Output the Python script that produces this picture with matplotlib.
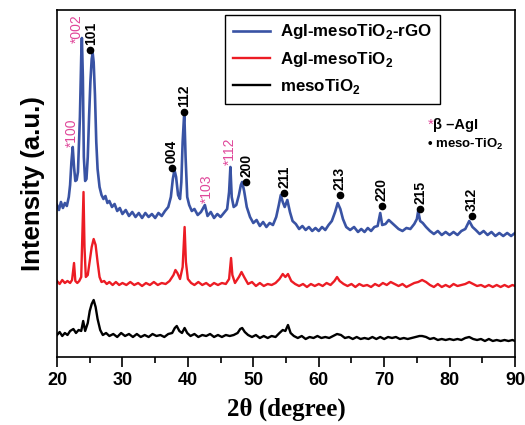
import matplotlib
matplotlib.use("Agg")
import matplotlib.pyplot as plt
from matplotlib.ticker import MultipleLocator

plt.rcParams['font.family'] = ['Liberation Sans', 'DejaVu Sans']
plt.rcParams['mathtext.fontset'] = 'custom'
plt.rcParams['mathtext.rm'] = 'Liberation Sans'
plt.rcParams['mathtext.bf'] = 'Liberation Sans:bold'

# XRD patterns (2theta in degrees, intensity in a.u.)
rgo_x = [20.0, 20.3, 20.6, 20.9, 21.2, 21.5, 21.8, 22.0, 22.2, 22.4, 22.6, 22.8, 23.0, 23.2,
         23.5, 23.7, 23.8, 23.95, 24.1, 24.3, 24.5, 24.7, 24.9, 25.1, 25.3, 25.45, 25.6, 25.8,
         26.0, 26.2, 26.5, 26.8, 27.1, 27.4, 27.7, 28.0, 28.4, 28.8, 29.2, 29.6, 30.0, 30.5,
         31.0, 31.5, 32.0, 32.5, 33.0, 33.5, 34.0, 34.5, 35.0, 35.5, 36.0, 36.5, 37.0, 37.4,
         37.7, 37.95, 38.2, 38.5, 38.8, 39.0, 39.2, 39.45, 39.65, 39.9, 40.2, 40.6, 41.0, 41.5,
         42.0, 42.6, 43.0, 43.5, 44.0, 44.5, 45.0, 45.5, 46.0, 46.3, 46.5, 46.7, 47.0, 47.4,
         47.8, 48.1, 48.3, 48.6, 49.0, 49.5, 50.0, 50.5, 51.0, 51.5, 52.0, 52.5, 53.0, 53.5,
         53.9, 54.2, 54.5, 54.8, 55.2, 55.6, 56.0, 56.5, 57.0, 57.5, 58.0, 58.5, 59.0, 59.5,
         60.0, 60.5, 61.0, 61.5, 62.0, 62.5, 62.9, 63.3, 63.7, 64.2, 64.8, 65.4, 66.0, 66.5,
         67.0, 67.5, 68.0, 68.5, 69.0, 69.4, 69.7, 70.2, 70.7, 71.2, 71.7, 72.2, 72.8, 73.4,
         74.0, 74.6, 75.0, 75.2, 75.5, 75.9, 76.4, 77.0, 77.6, 78.2, 78.8, 79.4, 80.0, 80.6,
         81.2, 81.8, 82.4, 83.0, 83.5, 84.0, 84.6, 85.2, 85.8, 86.4, 87.0, 87.6, 88.2, 88.8,
         89.4, 90.0]
rgo_y = [152, 147, 155, 149, 154, 151, 160, 172, 195, 210, 190, 176, 177, 185,
         240, 300, 319, 280, 200, 176, 178, 200, 240, 275, 298, 304, 295, 262,
         215, 188, 170, 162, 158, 161, 154, 156, 150, 153, 146, 149, 143, 147,
         141, 145, 140, 144, 139, 144, 140, 143, 139, 144, 141, 146, 150, 160,
         178, 187, 180, 162, 158, 175, 215, 245, 200, 160, 152, 146, 148, 142,
         145, 152, 141, 145, 139, 143, 140, 144, 148, 165, 190, 160, 150, 152,
         162, 172, 175, 166, 150, 140, 134, 137, 131, 135, 130, 134, 132, 140,
         152, 162, 155, 150, 157, 145, 136, 133, 128, 131, 127, 130, 126, 129,
         126, 130, 127, 132, 136, 145, 154, 148, 138, 130, 127, 130, 125, 128,
         125, 129, 126, 130, 131, 144, 132, 133, 137, 134, 131, 128, 126, 129,
         128, 133, 138, 146, 136, 134, 130, 126, 123, 126, 122, 125, 122, 125,
         122, 126, 128, 136, 130, 127, 123, 126, 122, 125, 121, 124, 121, 124,
         121, 124]

agi_x = [20.0, 20.4, 20.8, 21.2, 21.6, 22.0, 22.3, 22.6, 22.8, 23.1, 23.4, 23.7, 23.9, 24.05,
         24.2, 24.4, 24.7, 25.0, 25.3, 25.6, 25.9, 26.2, 26.5, 26.8, 27.2, 27.6, 28.0, 28.5,
         29.0, 29.5, 30.0, 30.6, 31.2, 31.8, 32.4, 33.0, 33.6, 34.2, 34.8, 35.4, 36.0, 36.6,
         37.2, 37.8, 38.1, 38.4, 38.8, 39.2, 39.5, 39.7, 40.0, 40.5, 41.0, 41.6, 42.2, 42.8,
         43.4, 44.0, 44.6, 45.2, 45.8, 46.3, 46.6, 46.8, 47.2, 47.8, 48.2, 48.6, 49.2, 49.8,
         50.4, 51.0, 51.6, 52.2, 52.8, 53.4, 54.0, 54.5, 54.9, 55.3, 55.8, 56.4, 57.0, 57.6,
         58.2, 58.8, 59.4, 60.0, 60.6, 61.2, 61.8, 62.4, 62.8, 63.2, 63.8, 64.4, 65.0, 65.6,
         66.2, 66.8, 67.4, 68.0, 68.6, 69.2, 69.8, 70.4, 71.0, 71.6, 72.2, 72.8, 73.4, 74.0,
         74.6, 75.2, 75.8, 76.4, 77.0, 77.6, 78.2, 78.8, 79.4, 80.0, 80.6, 81.2, 81.8, 82.4,
         83.0, 83.6, 84.2, 84.8, 85.4, 86.0, 86.6, 87.2, 87.8, 88.4, 89.0, 89.6, 90.0]
agi_y = [76, 73, 77, 74, 76, 74, 77, 94, 76, 74, 76, 80, 130, 165,
         110, 80, 82, 96, 110, 118, 112, 95, 80, 75, 76, 73, 75, 72,
         75, 72, 74, 72, 75, 72, 74, 71, 74, 72, 75, 72, 74, 73,
         76, 82, 87, 84, 78, 90, 130, 95, 78, 74, 72, 75, 72, 74,
         71, 74, 72, 74, 73, 78, 99, 82, 74, 80, 85, 80, 73, 75,
         71, 74, 71, 73, 72, 74, 78, 83, 80, 83, 76, 73, 71, 73,
         70, 73, 71, 73, 71, 74, 72, 76, 80, 76, 73, 71, 73, 70,
         73, 71, 72, 70, 73, 71, 74, 72, 75, 73, 71, 73, 70, 72,
         74, 75, 77, 75, 72, 70, 73, 70, 72, 70, 73, 71, 72, 73,
         75, 73, 71, 72, 70, 72, 70, 72, 70, 72, 70, 72, 71]

tio2_x = [20.0, 20.4, 20.8, 21.2, 21.6, 22.0, 22.5, 22.9, 23.3, 23.7, 24.0, 24.3, 24.7, 25.0,
          25.3, 25.6, 25.9, 26.2, 26.6, 27.0, 27.5, 28.0, 28.6, 29.2, 29.8, 30.4, 31.0, 31.6,
          32.2, 32.8, 33.4, 34.0, 34.6, 35.2, 35.8, 36.4, 37.0, 37.6, 38.0, 38.3, 38.7, 39.1,
          39.5, 39.9, 40.4, 41.0, 41.6, 42.2, 42.8, 43.4, 44.0, 44.6, 45.2, 45.8, 46.4, 47.0,
          47.6, 48.0, 48.3, 48.7, 49.2, 49.8, 50.4, 51.0, 51.6, 52.2, 52.8, 53.4, 54.0, 54.5,
          54.9, 55.3, 55.7, 56.2, 56.8, 57.4, 58.0, 58.6, 59.2, 59.8, 60.4, 61.0, 61.6, 62.2,
          62.8, 63.4, 64.0, 64.6, 65.2, 65.8, 66.4, 67.0, 67.6, 68.2, 68.8, 69.4, 70.0, 70.6,
          71.2, 71.8, 72.4, 73.0, 73.6, 74.2, 74.8, 75.4, 75.8, 76.4, 77.0, 77.6, 78.2, 78.8,
          79.4, 80.0, 80.6, 81.2, 81.8, 82.4, 83.0, 83.6, 84.2, 84.8, 85.4, 86.0, 86.6, 87.2,
          87.8, 88.4, 89.0, 89.6, 90.0]
tio2_y = [22, 25, 21, 24, 22, 26, 28, 24, 27, 26, 36, 26, 34, 46,
          53, 57, 50, 38, 27, 22, 24, 21, 23, 20, 24, 21, 23, 20,
          23, 20, 22, 20, 23, 21, 22, 20, 23, 24, 29, 31, 26, 24,
          29, 24, 21, 23, 20, 22, 21, 23, 20, 22, 20, 22, 21, 22,
          24, 28, 29, 25, 22, 20, 22, 19, 21, 19, 21, 20, 24, 27,
          26, 32, 24, 21, 19, 21, 18, 20, 19, 21, 19, 20, 19, 21,
          23, 22, 19, 20, 18, 20, 18, 19, 18, 20, 18, 20, 18, 20,
          19, 20, 18, 19, 18, 19, 20, 21, 21, 20, 18, 19, 17, 18,
          17, 18, 17, 18, 17, 19, 20, 18, 17, 18, 16, 18, 16, 17,
          16, 17, 16, 17, 16]

# peak assignments
tio2_peaks = [25.0, 37.5, 39.4, 48.9, 54.7, 63.25, 69.6, 75.5, 83.4]
tio2_heights = [307, 189, 245, 175, 164, 162, 151, 148, 141]
tio2_labels = ['101', '004', '112', '200', '211', '213', '220', '215', '312']
agi_peaks = [22.2, 23.1, 42.9, 46.4]
agi_heights = [210, 314, 154, 192]
agi_labels = ['*100', '*002', '*103', '*112']

blue = '#3953a4'
red = '#ec1c24'
pink = '#e0479a'

fig = plt.figure(figsize=(5.25, 4.25), dpi=100)
ax = fig.add_axes([0.1086, 0.16, 0.8724, 0.8165])

ax.plot(rgo_x, rgo_y, color=blue, lw=1.9, label=r'AgI-mesoTiO$_\mathbf{2}$-rGO')
ax.plot(agi_x, agi_y, color=red, lw=1.7, label=r'AgI-mesoTiO$_\mathbf{2}$')
ax.plot(tio2_x, tio2_y, color='black', lw=1.7, label=r'mesoTiO$_\mathbf{2}$')

# anatase TiO2 reflections: dot + label
ax.plot(tio2_peaks, tio2_heights, 'o', color='black', ms=4.5)
for x, h, lab in zip(tio2_peaks, tio2_heights, tio2_labels):
    xt = x + 0.15 if lab == '101' else x
    ax.text(xt, h + 5, lab, rotation=90, ha='center', va='bottom',
            fontsize=10, fontweight='bold', color='black')
# beta-AgI reflections
for x, h, lab in zip(agi_peaks, agi_heights, agi_labels):
    ax.text(x, h, lab, rotation=90, ha='center', va='bottom',
            fontsize=10, color=pink)

ax.text(76.6, 232, '*', color=pink, fontsize=11, va='center', ha='left')
ax.text(77.4, 232, 'β –AgI', fontsize=10.5, fontweight='bold', va='center', ha='left')
ax.text(76.6, 213, r'• meso-TiO$_\mathbf{2}$', fontsize=9.5, fontweight='bold', va='center', ha='left')

ax.set_xlim(20, 90)
ax.set_ylim(0, 347)
ax.set_yticks([])
ax.xaxis.set_major_locator(MultipleLocator(10))
ax.xaxis.set_minor_locator(MultipleLocator(5))
ax.tick_params(axis='x', which='major', length=7, width=1.2, direction='out',
               labelsize=13, pad=4)
ax.tick_params(axis='x', which='minor', length=4, width=1.2, direction='out')
for lab in ax.get_xticklabels():
    lab.set_fontweight('bold')
for sp in ax.spines.values():
    sp.set_linewidth(1.2)

ax.set_xlabel('2θ (degree)', fontsize=18, fontweight='bold', family='Liberation Serif', labelpad=6)
ax.set_ylabel('Intensity (a.u.)', fontsize=18.5, fontweight='bold', labelpad=9)

leg = ax.legend(loc='upper left', bbox_to_anchor=(0.367, 0.986), borderaxespad=0,
                fancybox=False, edgecolor='black', framealpha=1, handlelength=2.2,
                handletextpad=0.6, borderpad=0.45, labelspacing=0.5,
                prop={'weight': 'bold', 'size': 12.2})
leg.get_frame().set_linewidth(1.0)

fig.savefig('out.png', dpi=100)
